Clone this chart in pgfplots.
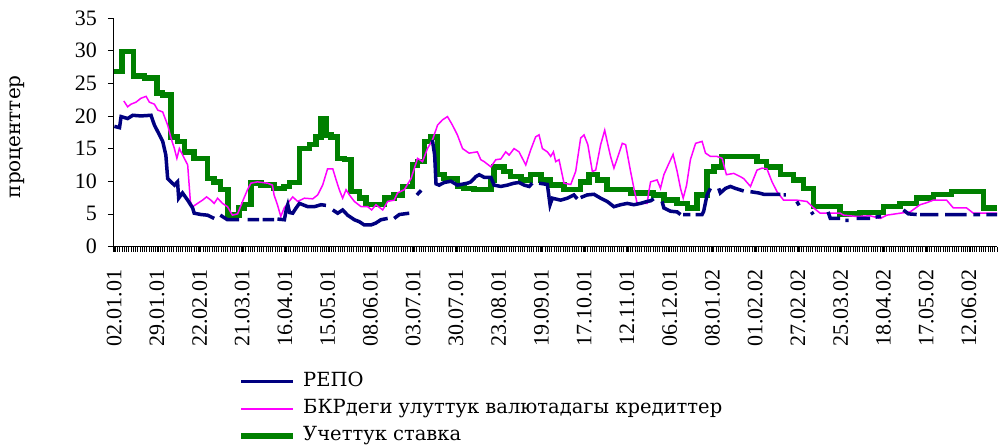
\documentclass[border=0pt]{standalone}
\usepackage{fontspec}
\setmainfont{Liberation Serif}
\newfontfamily\legfont{DejaVu Serif}
\usepackage{pgfplots}
\pgfplotsset{compat=1.18}
\definecolor{repo}{RGB}{0,0,128}
\definecolor{bkr}{RGB}{255,0,255}
\definecolor{uchet}{RGB}{0,128,0}
\pgfplotsset{legend image code/.code={\draw[#1] (0pt,0pt) -- (52pt,0pt);}}
\begin{document}
\begin{tikzpicture}
\begin{axis}[
  name=ax,
  scale only axis,
  width=884pt, height=228.5pt,
  xmin=-0.5, xmax=392.5,
  ymin=0, ymax=35,
  ytick={0,5,...,35},
  xtick={0,19,...,380},
  xticklabels={02.01.01,29.01.01,22.02.01,21.03.01,16.04.01,15.05.01,08.06.01,03.07.01,30.07.01,23.08.01,19.09.01,17.10.01,12.11.01,06.12.01,08.01.02,01.02.02,27.02.02,25.03.02,18.04.02,17.05.02,12.06.02},
  minor xtick={-0.5,0.5,...,392.5},
  axis x line*=bottom, axis y line*=left,
  axis line style={-, line width=0.8pt},
  tick align=outside,
  major tick length=5pt, minor tick length=5pt,
  tick style={black, line width=0.6pt},
  /pgf/number format/assume math mode=true,
  tick label style={font=\fontsize{22}{24}\selectfont},
  xticklabel style={rotate=90, anchor=east, inner sep=0pt},
  xticklabel shift=18pt,
  yticklabel style={inner sep=0pt},
  yticklabel shift=11pt,
  ylabel={проценттер},
  ylabel style={font=\legfont\fontsize{20}{22}\selectfont, at={(axis description cs:-0.1086,0.48)}, anchor=center},
  reverse legend,
  legend style={draw=none, fill=none, at={(axis description cs:0.142,-0.553)}, anchor=north west,
    font=\legfont\fontsize{19.5}{21}\selectfont, cells={anchor=west}, row sep=10.3pt, column sep=7pt, inner sep=0pt,
    nodes={inner sep=0pt, text height=13pt, text depth=4pt}},
  unbounded coords=jump,
]
% Учеттук ставка (step)
\addplot[const plot, color=uchet, line width=5.5pt] coordinates {
(0,26.8) (3.4,29.9) (8.7,26.1) (13.4,25.8) (19.0,23.5) (21.6,23.2) (25.3,16.8) (28.2,16.1) (31.2,14.5) (35.6,13.5)
(41.5,10.4) (44.5,9.9) (47.4,8.7) (50.7,4.8) (55.6,5.9) (57.8,6.4) (60.8,9.7) (65.2,9.4) (71.1,8.9) (75.6,9.2)
(77.9,9.8) (82.4,15.0) (86.8,15.6) (89.8,16.8) (92.0,19.6) (94.2,17.1) (96.4,16.8) (99.4,13.5) (102.4,13.3) (105.3,8.4)
(109.0,7.4) (112.0,6.4) (120.1,7.4) (124.5,7.9) (128.2,9.2) (132.7,12.5) (134.9,13.0) (137.9,16.1) (140.8,16.8) (143.8,11.0)
(146.7,10.4) (152.6,9.2) (155.6,8.9) (160.0,8.7) (167.5,10.2) (168.9,12.2) (173.4,11.5) (176.3,10.7) (180.8,10.2) (185.2,11.0)
(189.7,10.2) (194.1,9.4) (200.0,8.7) (207.4,9.9) (211.1,11.0) (214.8,10.2) (219.2,8.7) (229.6,8.2) (239.9,7.9) (244.4,7.1)
(250.3,6.6) (254.8,5.9) (259.2,7.9) (263.6,11.5) (266.6,12.2) (270.3,13.8) (285.8,13.0) (290.1,12.2) (296.2,11.0) (302.1,10.2)
(306.5,8.9) (311.0,6.1) (322.8,5.0) (331.7,5.2) (342.0,6.1) (349.4,6.6) (356.8,7.4) (364.2,8.0) (372.3,8.4) (386.4,5.9) (392.7,5.9)
};
\addlegendentry{Учеттук ставка}
% БКРдеги улуттук валютадагы кредиттер
\addplot[color=bkr, line width=1.5pt] coordinates {
(4.3,22.3) (6.0,21.4) (7.5,21.8) (9.7,22.1) (11.9,22.7) (14.2,23.0) (15.7,22.1) (17.9,21.8) (19.4,20.9) (21.6,20.6)
(23.8,18.6) (25.3,16.6) (26.8,15.0) (27.9,13.5) (29.0,15.0) (31.2,13.5) (32.7,12.5) (33.9,6.9) (34.9,6.1) (37.1,6.6)
(39.3,7.1) (41.1,7.6) (43.0,7.1) (44.5,6.6) (46.0,7.4) (48.2,6.6) (50.4,6.1) (52.6,4.8) (54.9,5.0) (57.1,6.9)
(59.3,8.7) (60.8,9.7) (63.7,9.9) (68.2,9.7) (70.4,9.4) (71.1,7.9) (72.6,6.4) (74.1,4.6) (75.6,5.9) (77.8,6.9)
(79.4,7.6) (81.6,6.9) (84.6,7.4) (88.3,7.3) (90.5,7.9) (92.7,9.4) (94.9,11.9) (97.2,11.9) (98.7,10.2) (100.1,8.7)
(101.6,7.4) (103.1,8.7) (104.6,7.9) (106.8,6.9) (109.8,6.1) (112.7,6.1) (114.5,5.6) (116.4,6.4) (119.4,5.6) (121.6,6.9)
(124.5,7.1) (126.0,8.2) (129.0,8.7) (132.0,10.4) (134.9,13.5) (137.1,13.0) (139.3,15.0) (141.5,16.3) (143.8,18.6) (146.0,19.4)
(148.2,19.9) (150.4,18.6) (152.6,17.1) (154.9,15.0) (157.8,14.3) (161.5,14.5) (163.0,13.3) (164.5,13.0) (167.5,12.2) (169.7,13.3)
(171.9,13.4) (174.1,14.5) (175.6,14.0) (177.8,15.0) (180.0,14.5) (183.0,12.5) (185.2,14.8) (187.4,16.8) (188.9,17.1) (190.4,15.0)
(192.6,14.5) (194.1,13.8) (195.3,14.5) (196.3,13.0) (197.8,13.3) (200.0,9.7) (203.0,9.5) (205.2,11.5) (207.4,16.6) (208.9,17.1)
(210.6,15.6) (212.6,11.5) (214.1,11.7) (216.3,15.6) (218.1,17.8) (219.5,15.6) (220.7,13.8) (222.2,12.0) (224.0,13.8) (225.9,15.8)
(227.4,15.6) (229.6,11.5) (231.1,8.9) (232.5,6.6) (237.0,6.6) (237.7,8.4) (238.5,9.9) (241.4,10.2) (242.9,8.9) (244.4,11.0)
(246.6,12.7) (248.5,14.1) (250.3,11.5) (251.8,8.9) (253.0,7.4) (254.5,9.4) (256.2,13.3) (258.5,15.8) (261.4,16.1) (262.9,14.3)
(265.1,13.8) (268.0,13.8) (270.3,13.5) (272.2,11.0) (275.5,11.2) (278.4,10.7) (279.9,10.4) (282.9,9.2) (285.8,11.7) (288.0,12.0)
(290.2,11.9) (292.5,9.9) (294.7,8.4) (297.6,7.1) (303.5,7.1) (308.0,6.9) (311.0,5.9) (313.9,5.1) (322.8,5.1) (324.3,4.8)
(330.1,4.6) (336.1,4.7) (340.6,4.3) (343.5,4.8) (349.4,5.1) (353.9,5.3) (358.3,6.4) (361.2,6.7) (364.2,7.1) (370.1,7.1)
(373.1,5.9) (379.0,5.9) (382.0,5.1) (392.7,5.1)
};
\addlegendentry{БКРдеги улуттук валютадагы кредиттер}
% РЕПО (with gaps)
\addplot[color=repo, line width=3.5pt] coordinates {
(0.1,18.4) (2.4,18.2) (3.1,19.9) (6.0,19.6) (8.3,20.1) (11.9,20.0) (16.4,20.1) (17.9,18.6) (19.4,17.6) (21.6,16.1)
(23.0,14.0) (23.8,10.4) (25.3,9.9) (26.8,9.4) (28.2,9.9) (28.7,7.4) (30.4,8.2) (32.7,7.1) (34.9,5.9) (35.6,5.1)
(38.6,4.9) (41.5,4.8) (44.5,4.3) (45.5,nan)
(47.2,4.8) (50.4,4.1) (55.6,4.1) (57,nan)
(59.3,4.1) (64.5,4.1) (65,nan)
(66.0,4.1) (71.1,4.1) (72,nan)
(72.6,4.2) (75.7,4.1) (76.5,5.6) (77.2,6.4) (78.0,5.2) (79.4,5.1) (80.9,5.9) (82.4,6.6) (86.1,6.1) (89.0,6.1) (92.0,6.4) (94.2,6.3) (95,nan)
(97.2,5.6) (99.4,5.1) (101.6,5.6) (103.8,4.8) (106.8,4.1) (109.0,3.8) (111.2,3.3) (114.2,3.3) (116.4,3.6) (118.6,4.1) (121.6,4.3) (122,nan)
(124.5,4.3) (126.8,4.9) (131.2,5.1) (132,nan)
(134.6,7.9) (136.5,8.6) (137,nan)
(141.5,16.3) (142.5,14.0) (143.1,9.6) (144.5,9.4) (146.7,9.8) (149.7,10.0) (152.6,9.4) (157.1,9.7) (158.6,9.9) (160.8,10.7)
(162.3,11.0) (164.5,10.6) (167.5,10.6) (168.9,9.4) (171.9,9.2) (174.8,9.4) (177.8,9.7) (180.0,9.8) (182.3,9.4) (184.5,9.2) (185.9,9.7) (187,nan)
(188.9,9.7) (192.6,9.5) (193.8,6.4) (194.8,7.4) (198.5,7.1) (201.5,7.4) (204.4,7.9) (205.9,7.3) (206.5,nan)
(207.4,7.5) (210.3,7.9) (213.3,8.0) (216.3,7.4) (219.2,6.9) (222.2,6.1) (225.2,6.4) (228.1,6.6) (231.1,6.4) (234.0,6.6) (237.0,6.9) (238.5,7.0) (239.9,7.3) (241,nan)
(243.6,6.9) (244.4,5.9) (247.4,5.4) (250.3,5.3) (251.8,4.9) (252.5,nan)
(253.0,4.9) (256.2,4.9) (257,nan)
(258.5,4.9) (261.4,4.9) (262.1,5.4) (263.6,7.9) (265.1,8.9) (266,nan)
(268.8,8.9) (269.5,8.2) (271.8,8.9) (274.0,9.2) (276.2,8.9) (279.9,8.5) (281,nan)
(282.9,8.4) (286.6,8.2) (288.8,8.0) (291.7,8.0) (296.2,8.0) (297,nan)
(297.6,7.9) (298.6,7.9) (300,nan)
(303.5,6.9) (304.5,6.3) (306,nan)
(310.0,5.3) (310.8,4.9) (312,nan)
(317.4,5.3) (318.4,4.3) (322.8,4.3) (324,nan)
(325.1,4.0) (326.5,4.0) (328,nan)
(330.1,4.3) (336.1,4.3) (337,nan)
(338.5,4.5) (341.0,4.6) (342,nan)
(350.9,5.6) (353.1,5.0) (356.8,4.9) (357.5,nan)
(358.3,4.9) (366.4,4.9) (367,nan)
(369.4,4.9) (379.0,4.9) (380,nan)
(382.0,4.9) (385.0,4.9) (386,nan)
(387.8,4.9) (392.7,4.9)
};
\addlegendentry{РЕПО}
\end{axis}
\pgfresetboundingbox
\path[use as bounding box] ([xshift=-113pt,yshift=-200.5pt]ax.south west) rectangle ([xshift=2pt,yshift=18pt]ax.north east);
\end{tikzpicture}
\end{document}
